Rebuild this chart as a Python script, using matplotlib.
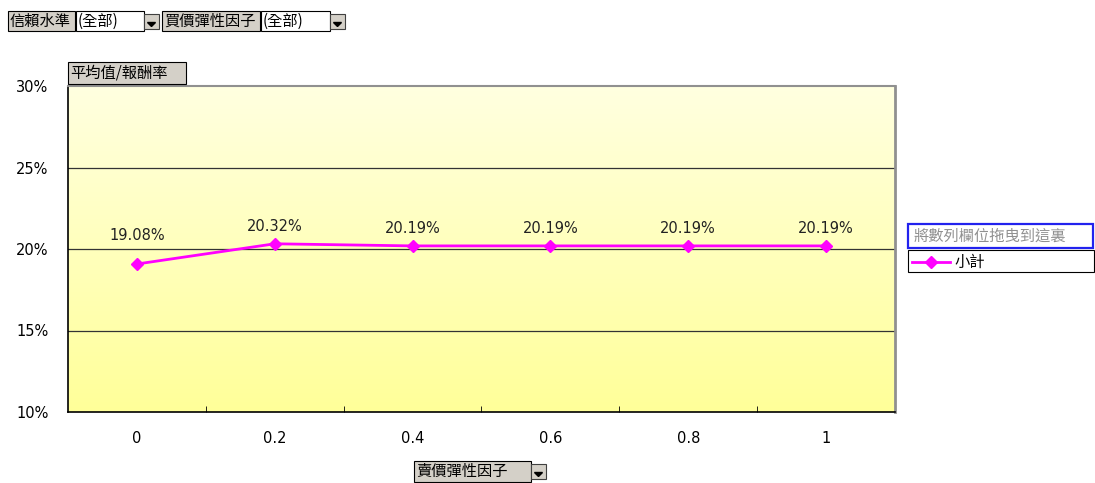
import matplotlib
matplotlib.use('Agg')
import matplotlib.pyplot as plt
import numpy as np
from matplotlib.patches import Rectangle, Polygon
from matplotlib.colors import LinearSegmentedColormap

plt.rcParams['font.family'] = ['Noto Sans CJK TC', 'DejaVu Sans']

categories = ['0', '0.2', '0.4', '0.6', '0.8', '1']
subtotal = [19.08, 20.32, 20.19, 20.19, 20.19, 20.19]
label_offsets = [15, 7, 7, 7, 7, 7]
y_ticks = [10, 15, 20, 25, 30]

W, H = 1095, 483
fig = plt.figure(figsize=(W / 100, H / 100), dpi=100)
fig.patch.set_facecolor('white')


def fx(px):
    return px / W


def fy(py):
    return 1 - py / H


def button(x0, y0, x1, y1, text, face='#d4d0c8', fs=11, color='black', edge='black', lw=0.8):
    fig.add_artist(Rectangle((fx(x0), fy(y1)), fx(x1 - x0), (y1 - y0) / H,
                             facecolor=face, edgecolor=edge, linewidth=lw))
    fig.text(fx(x0 + 2), fy((y0 + y1) / 2), text, fontsize=fs, color=color,
             ha='left', va='center')


def dropdown(x0, y0, size=15):
    fig.add_artist(Rectangle((fx(x0), fy(y0 + size)), fx(size), size / H,
                             facecolor='#d4d0c8', edgecolor='#404040', linewidth=0.8))
    cx, cy = x0 + size / 2, y0 + size / 2 + 2
    fig.add_artist(Polygon([(fx(cx - 4), fy(cy - 1)), (fx(cx + 4), fy(cy - 1)),
                            (fx(cx), fy(cy + 3))], closed=True, color='black'))


# page field buttons across the top
button(8, 11, 75, 31, '信賴水準')
button(76, 11, 144, 31, '(全部)', face='white')
dropdown(144, 14)
button(162, 11, 260, 31, '買價彈性因子')
button(261, 11, 330, 31, '(全部)', face='white')
dropdown(330, 14)

# chart area
ax = fig.add_axes([fx(68), fy(412), fx(895 - 68), (412 - 86) / H])
x = np.arange(len(categories))
ax.set_xlim(-0.5, len(categories) - 0.5)
ax.set_ylim(10, 30)

grad = LinearSegmentedColormap.from_list('bg', ['#ffffe0', '#ffff99'])
ax.imshow(np.linspace(0, 1, 256).reshape(-1, 1), cmap=grad, aspect='auto',
          origin='upper', extent=[-0.5, len(categories) - 0.5, 10, 30], zorder=0)

for t in y_ticks[1:-1]:
    ax.axhline(t, color='#333333', linewidth=0.9, zorder=1)

ax.plot(x, subtotal, color='#ff00ff', linewidth=2, marker='D', markersize=6,
        markeredgecolor='#ff00ff', zorder=3)
for xi, v, off in zip(x, subtotal, label_offsets):
    ax.annotate(f'{v:.2f}%', (xi, v), textcoords='offset points', xytext=(0, off),
                ha='center', va='bottom', fontsize=10.5, color='#222222',
                family='DejaVu Sans')

ax.set_yticks(y_ticks)
ax.set_yticklabels([f'{t}%' for t in y_ticks], fontsize=10.5, family='DejaVu Sans')
ax.tick_params(axis='y', length=0, pad=14)
ax.set_xticks(x)
ax.set_xticklabels(categories, fontsize=10.5, family='DejaVu Sans')
ax.tick_params(axis='x', which='major', length=0, pad=14)
ax.set_xticks(x[:-1] + 0.5, minor=True)
ax.tick_params(axis='x', which='minor', direction='in', length=4, color='black')

ax.spines['left'].set_color('black')
ax.spines['bottom'].set_color('black')
ax.spines['left'].set_linewidth(1.2)
ax.spines['bottom'].set_linewidth(1.2)
ax.spines['top'].set_color('#909090')
ax.spines['right'].set_color('#909090')
ax.spines['top'].set_linewidth(1.5)
ax.spines['right'].set_linewidth(2)

# data field button above the plot
button(68, 62, 186, 84, '平均值/報酬率')

# series drop zone and legend
fig.add_artist(Rectangle((fx(908), fy(248)), fx(1093 - 908), 24 / H,
                         facecolor='white', edgecolor='#2222ee', linewidth=1.6))
fig.text(fx(914), fy(236), '將數列欄位拖曳到這裏', fontsize=11, color='#909090',
         ha='left', va='center')
fig.add_artist(Rectangle((fx(908), fy(272)), fx(1094 - 908), 22 / H,
                         facecolor='white', edgecolor='black', linewidth=0.8))
fig.add_artist(plt.Line2D([fx(912), fx(950)], [fy(262), fy(262)], color='#ff00ff',
                          linewidth=2))
fig.add_artist(plt.Line2D([fx(931)], [fy(262)], color='#ff00ff', marker='D',
                          markersize=6))
fig.text(fx(954), fy(262), '小計', fontsize=11, ha='left', va='center')

# category field button
button(414, 461, 531, 482, '賣價彈性因子')
dropdown(531, 464)

fig.savefig('out.png', dpi=100)
